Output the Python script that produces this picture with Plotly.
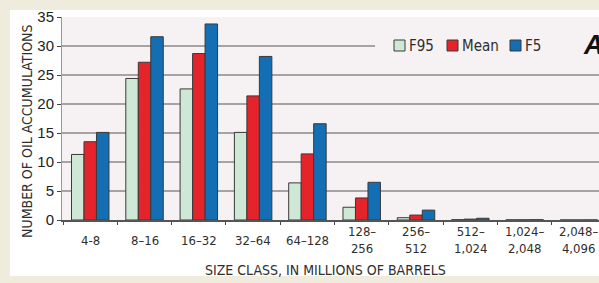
import plotly.graph_objects as go

categories = ["4-8", "8–16", "16–32", "32–64", "64–128", "128–<br>256", "256–<br>512",
              "512–<br>1,024", "1,024–<br>2,048", "2,048–<br>4,096"]
series_names = ["F95", "Mean", "F5"]
f95 = [11.3, 24.4, 22.6, 15.1, 6.4, 2.2, 0.4, 0.05, 0.02, 0.0]
mean = [13.5, 27.2, 28.7, 21.4, 11.4, 3.8, 0.85, 0.15, 0.03, 0.0]
f5 = [15.1, 31.6, 33.8, 28.2, 16.6, 6.5, 1.7, 0.3, 0.05, 0.01]
y_ticks = [0, 5, 10, 15, 20, 25, 30, 35]
colors = ["#cfe8d6", "#e4242a", "#136eb4"]

FONT = "Liberation Sans Narrow, DejaVu Sans Condensed, Arial Narrow, sans-serif"
PLOT_BG = "#f6f1f3"
BEIGE = "#efebdd"
TXT = "#2e2e2e"

fig = go.Figure()
for name, vals, col in zip(series_names, [f95, mean, f5], colors):
    fig.add_trace(go.Bar(x=categories, y=vals, name=name, marker_color=col,
                         marker_line_color="#3a3a3a", marker_line_width=1,
                         showlegend=False))

W, H = 599, 283
L, R, T, B = 62, 0, 17, 63
pw = W - L - R
ph = H - T - B

def px_x(x):
    return (x - L) / pw

def px_y(y):
    return (H - B - y) / ph

shapes = [
    # beige frame
    dict(type="rect", xref="paper", yref="paper", x0=px_x(0), x1=px_x(W + 5),
         y0=px_y(0), y1=px_y(10), fillcolor=BEIGE, line_width=0, layer="above"),
    dict(type="rect", xref="paper", yref="paper", x0=px_x(0), x1=px_x(10),
         y0=px_y(0), y1=px_y(H), fillcolor=BEIGE, line_width=0, layer="above"),
    dict(type="rect", xref="paper", yref="paper", x0=px_x(0), x1=px_x(W + 5),
         y0=px_y(276), y1=px_y(H + 5), fillcolor=BEIGE, line_width=0, layer="above"),
    # legend background covering grid line
    dict(type="rect", xref="paper", yref="paper", x0=px_x(375), x1=px_x(W + 5),
         y0=px_y(56), y1=px_y(36), fillcolor=PLOT_BG, line_width=0, layer="above"),
]

annotations = []
legend_x = [394, 447, 510]
for name, col, lx in zip(series_names, colors, legend_x):
    shapes.append(dict(type="rect", xref="paper", yref="paper", x0=px_x(lx), x1=px_x(lx + 11),
                       y0=px_y(51), y1=px_y(40), fillcolor=col,
                       line=dict(color="#3a3a3a", width=1), layer="above"))
    annotations.append(dict(xref="paper", yref="paper", x=px_x(lx + 13), y=px_y(45.5),
                            text=name, showarrow=False, xanchor="left", yanchor="middle",
                            font=dict(family=FONT, size=15, color=TXT)))
annotations.append(dict(xref="paper", yref="paper", x=px_x(581), y=px_y(45), text="<b><i>A</i></b>",
                        showarrow=False, xanchor="left", yanchor="middle",
                        font=dict(family="Liberation Sans, Arial, sans-serif", size=27, color="#111")))
annotations.append(dict(xref="paper", yref="paper", x=px_x(325), y=px_y(270),
                        text="SIZE CLASS, IN MILLIONS OF BARRELS", showarrow=False,
                        xanchor="center", yanchor="middle",
                        font=dict(family=FONT, size=14, color=TXT)))
annotations.append(dict(xref="paper", yref="paper", x=px_x(27), y=px_y(131),
                        text="NUMBER OF OIL ACCUMULATIONS", showarrow=False, textangle=-90,
                        xanchor="center", yanchor="middle",
                        font=dict(family=FONT, size=14, color=TXT)))
# category labels, vertically centred under each group
for cat in categories:
    annotations.append(dict(xref="x", yref="paper", x=cat, y=px_y(240), text=cat,
                            showarrow=False, xanchor="center", yanchor="middle",
                            font=dict(family=FONT, size=13, color=TXT)))

fig.update_layout(
    width=W, height=H,
    margin=dict(l=L, r=R, t=T, b=B, autoexpand=False),
    paper_bgcolor="white", plot_bgcolor=PLOT_BG,
    barmode="group", bargap=0.31, bargroupgap=0,
    shapes=shapes, annotations=annotations,
    xaxis=dict(range=[-0.52, 9.37], tickson="boundaries", ticks="outside", ticklen=3,
               tickcolor="#444", showline=True, linecolor="#555", linewidth=1.5,
               showticklabels=False, automargin=False, showgrid=False, fixedrange=True),
    yaxis=dict(range=[0, 35], tickvals=y_ticks, ticks="outside", ticklen=4, tickcolor="#444",
               showline=True, linecolor="#999", linewidth=1, mirror=False,
               showgrid=True, gridcolor="#a5a3a3", gridwidth=1.5, zeroline=False,
               tickfont=dict(family="Liberation Sans, Arial, sans-serif", size=15, color="#222"),
               automargin=False, fixedrange=True),
)
fig.write_html("out.html", config={"displayModeBar": False},
               post_script="document.body.style.margin='0';document.body.style.overflow='hidden';")
